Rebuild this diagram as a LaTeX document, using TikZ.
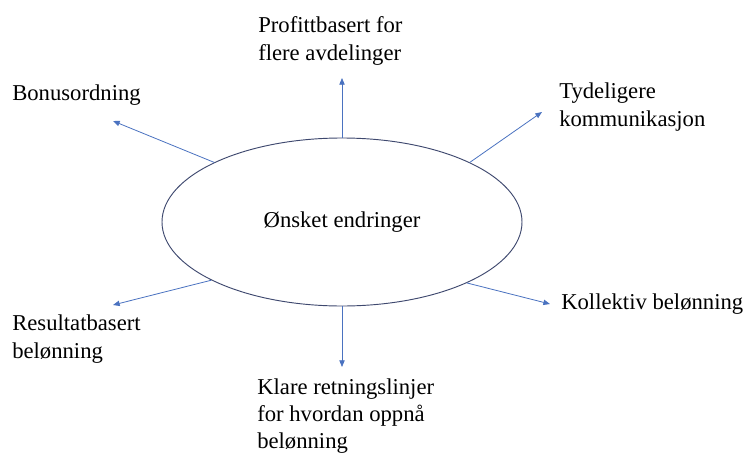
\documentclass[tikz,border=0pt]{standalone}
\usepackage{fontspec}
\setmainfont{Liberation Serif}
\usetikzlibrary{arrows.meta,shapes.geometric,positioning}

\definecolor{rim}{RGB}{62,72,110}
\definecolor{wish}{RGB}{74,114,192}

\begin{document}
\begin{tikzpicture}[x=0.75pt,y=-0.75pt,
    wishlabel/.style={anchor=west,align=left,inner sep=0pt,font=\fontsize{17}{20.4}\selectfont},
    wisharrow/.style={draw=wish,line width=0.6pt,-{Triangle[length=5pt,width=4pt]}}]

    \useasboundingbox (0,0) rectangle (746,457);

    \node (centre) [ellipse,draw=rim,line width=0.7pt,minimum width=270pt,minimum height=126pt,inner sep=0pt,
      font=\fontsize{17}{20.4}\selectfont] at (342,222) {Ønsket endringer};

    \node (profit)  [wishlabel] at (258,41)  {Profittbasert for\\flere avdelinger};
    \node (bonus)   [wishlabel] at (12,95)   {Bonusordning};
    \node (clear)   [wishlabel] at (559,107) {Tydeligere\\kommunikasjon};
    \node (collect) [wishlabel] at (561,304) {Kollektiv belønning};
    \node (result)  [wishlabel] at (12,339)  {Resultatbasert\\belønning};
    \node (rules)   [wishlabel] at (257,416) {Klare retningslinjer\\for hvordan oppnå\\belønning};

    \coordinate (profit-end)  at (342,78);
    \coordinate (bonus-end)   at (113,121);
    \coordinate (clear-end)   at (542,112);
    \coordinate (collect-end) at (550,304);
    \coordinate (result-end)  at (113,305);
    \coordinate (rules-end)   at (342,367);

    \draw [wisharrow] (centre.90)    -- (profit-end);
    \draw [wisharrow] (centre.155.6) -- (bonus-end);
    \draw [wisharrow] (centre.25.1)  -- (clear-end);
    \draw [wisharrow] (centre.334.9) -- (collect-end);
    \draw [wisharrow] (centre.204.9) -- (result-end);
    \draw [wisharrow] (centre.270)   -- (rules-end);

\end{tikzpicture}
\end{document}
